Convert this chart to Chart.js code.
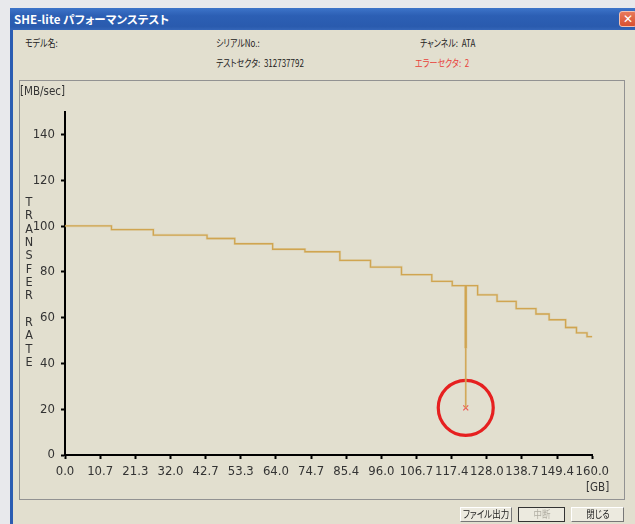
<!DOCTYPE html>
<html>
<head>
<meta charset="utf-8">
<script src="https://cdn.jsdelivr.net/npm/chart.js@4"></script>
<style>
  html,body{margin:0;padding:0;}
  body{width:635px;height:524px;overflow:hidden;background:#e8e9ec;position:relative;
       font-family:"Noto Sans CJK JP","Noto Sans",sans-serif;}
  .win{position:absolute;left:10px;top:8px;width:640px;height:530px;background:#e2dfcf;
       border-left:3px solid #2b5db2;box-sizing:border-box;}
  .titlebar{position:absolute;left:10px;top:8px;width:625px;height:22px;
       background:linear-gradient(#3d74c9,#2c5fb4 35%,#2a5bae 85%,#3566b8);}
  .title{position:absolute;left:14px;top:11px;color:#fff;font-weight:bold;font-size:11.5px;
       line-height:16px;font-feature-settings:"palt";letter-spacing:0.1px;white-space:nowrap;}
  .close{position:absolute;left:619px;top:11px;width:18px;height:16px;border-radius:3px;
       background:linear-gradient(#e8795c,#d9502f);border:1px solid #f3c0b0;box-sizing:border-box;
       color:#fff;font:bold 12px/14px "DejaVu Sans",sans-serif;text-align:center;}
  .lbl{position:absolute;font-size:10px;line-height:12px;color:#222;white-space:nowrap;
       font-feature-settings:"palt";transform:scaleX(0.8);transform-origin:0 0;}
  .red{color:#e8413a;}
  .frame{position:absolute;left:19px;top:80px;width:606px;height:420px;box-sizing:border-box;
       border:1px solid #929292;}
  canvas{position:absolute;left:20px;top:81px;}
  .axt{position:absolute;font-family:"Liberation Sans Narrow","DejaVu Sans Condensed",sans-serif;
       font-size:12.5px;line-height:14px;color:#333;white-space:nowrap;transform:scaleX(0.92);transform-origin:0 0;}
  .vert{position:absolute;left:22px;top:195px;width:14px;text-align:center;
       font-family:"Liberation Sans Narrow","DejaVu Sans Condensed",sans-serif;font-size:12.5px;
       line-height:13.33px;color:#333;}
  .btn{position:absolute;top:507px;height:15px;box-sizing:border-box;overflow:hidden;
       color:#222;background:#eceadf;
       border-top:1px solid #fff;border-left:1px solid #fff;border-right:1px solid #777;border-bottom:1px solid #777;}
  .btn span{position:absolute;left:50%;top:0;font-size:10px;line-height:12px;white-space:nowrap;
       font-feature-settings:"palt";transform:translateX(-50%) scaleX(0.85);}
  .btn.dis{color:#b0ada2;border:1px solid #333;}
</style>
</head>
<body>
<div class="win"></div>
<div class="titlebar"></div>
<div class="title">SHE-lite パフォーマンステスト</div>
<div class="close">✕</div>

<div class="lbl" style="left:25px;top:37px;">モデル名:</div>
<div class="lbl" style="left:216px;top:37px;">シリアルNo.:</div>
<div class="lbl" style="left:420px;top:37px;">チャンネル:&nbsp;&nbsp;ATA</div>
<div class="lbl" style="left:216px;top:57px;">テストセクタ:&nbsp;&nbsp;312737792</div>
<div class="lbl red" style="left:415px;top:57px;">エラーセクタ:&nbsp;&nbsp;2</div>

<div class="frame"></div>
<canvas id="c" width="603" height="417"></canvas>
<div class="axt" style="left:20px;top:84px;">[MB/sec]</div>
<div class="vert">T<br>R<br>A<br>N<br>S<br>F<br>E<br>R<br>&nbsp;<br>R<br>A<br>T<br>E</div>
<div class="axt" style="left:586px;top:480px;">[GB]</div>

<div class="btn" style="left:460px;width:52px;"><span>ファイル出力</span></div>
<div class="btn dis" style="left:518px;width:47px;"><span>中断</span></div>
<div class="btn" style="left:571px;width:53px;"><span>閉じる</span></div>

<script>
// ---- data ----
const positionsGB = [0, 14.1, 26.8, 43.1, 51.5, 63.0, 72.8, 83.4, 92.7, 102.1, 111.3, 117.5,
                     121.45, 121.6, 121.6, 121.75, 125.2, 131.1, 136.9, 142.9, 146.9, 151.9, 155.2, 158.4, 160.0];
const transferRates = [100.1, 98.5, 96.1, 94.6, 92.3, 89.9, 88.8, 85.0, 82.1, 78.8, 75.9, 74.0,
                       47.0, 20.6, 47.0, 74.0, 70.0, 67.1, 64.0, 61.6, 59.1, 55.7, 53.4, 51.7, 51.7];
const errorGB = [121.6];
const errorRates = [20.6];
const xTickLabels = ["0.0","10.7","21.3","32.0","42.7","53.3","64.0","74.7","85.4","96.0",
                     "106.7","117.4","128.0","138.7","149.4","160.0"];
const yTickValues = [0, 20, 40, 60, 80, 100, 120, 140];
const xMax = 160, yMax = 150;

const linePts = positionsGB.map((x, i) => ({x, y: transferRates[i]}));
const errPts = errorGB.map((x, i) => ({x, y: errorRates[i]}));
const tickFont = {family: '"Liberation Sans Narrow","DejaVu Sans Condensed",sans-serif', size: 13};

new Chart(document.getElementById('c'), {
  type: 'line',
  data: {
    datasets: [
      {data: linePts, stepped: true, borderColor: 'rgba(215,185,120,0.35)', borderWidth: 2.5,
       pointRadius: 0, fill: false},
      {data: linePts, stepped: true, borderColor: '#cc9a3c', borderWidth: 1.3,
       pointRadius: 0, fill: false},
      {data: errPts, showLine: false, pointStyle: 'crossRot', pointRadius: 3.5,
       borderColor: '#ee5a55', borderWidth: 1.2, backgroundColor: 'transparent'},
      {data: errPts, showLine: false, pointStyle: 'circle', pointRadius: 27.5,
       borderColor: '#e62020', borderWidth: 3.2, backgroundColor: 'transparent'}
    ]
  },
  options: {
    responsive: false,
    devicePixelRatio: 1,
    animation: false,
    events: [],
    layout: {padding: {left: 0, top: 29, right: 27, bottom: 0}},
    plugins: {legend: {display: false}, tooltip: {enabled: false}},
    scales: {
      x: {
        type: 'linear', min: 0, max: xMax,
        afterBuildTicks: s => { s.ticks = xTickLabels.map((l, i) => ({value: i * xMax / (xTickLabels.length - 1)})); },
        afterFit: s => { s.height = 43; s.paddingLeft = 0; s.paddingRight = 0; },
        ticks: {autoSkip: false, maxRotation: 0, padding: 5, color: '#333', font: tickFont,
                callback: (v, i) => xTickLabels[i]},
        grid: {drawOnChartArea: false, drawTicks: true, tickLength: 4, tickColor: '#000', tickWidth: 2},
        border: {display: true, color: '#000', width: 2}
      },
      y: {
        type: 'linear', min: 0, max: yMax,
        afterBuildTicks: s => { s.ticks = yTickValues.map(v => ({value: v})); },
        afterFit: s => { s.width = 45; s.paddingTop = 0; s.paddingBottom = 0; },
        ticks: {padding: 6, color: '#333', font: tickFont, callback: v => String(v)},
        grid: {drawOnChartArea: false, drawTicks: true, tickLength: 4, tickColor: '#000', tickWidth: 2},
        border: {display: true, color: '#000', width: 2}
      }
    }
  }
});
</script>
</body>
</html>
